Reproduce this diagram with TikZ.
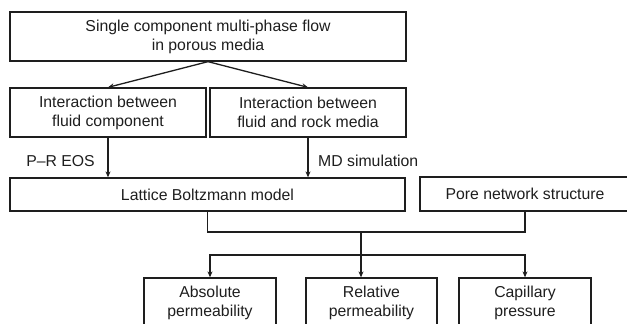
\documentclass[tikz,border=0pt]{standalone}
\usepackage{fontspec}
\setmainfont{Liberation Sans}
\usetikzlibrary{arrows.meta}
\definecolor{ink}{HTML}{1E1E1E}
\begin{document}
\begin{tikzpicture}[x=1pt,y=-1pt,
  box/.style={draw=ink,line width=1.3pt,inner sep=0pt,align=center,text=ink,
    font=\fontsize{15.8}{19}\selectfont},
  lbl/.style={inner sep=0pt,text=ink,font=\fontsize{15.8}{19}\selectfont},
  conn/.style={draw=ink,line width=1.3pt},
  arr/.style={conn,-{Stealth[length=6pt,width=5pt]}}]
\useasboundingbox (0,0) rectangle (627,324);
\clip (0,0) rectangle (627,324);
\node[box,minimum width=396pt,minimum height=49pt] (top) at (208,36.5)
  {Single component multi-phase flow\\in porous media};
\node[box,minimum width=196pt,minimum height=49pt] (midL) at (108,112.5)
  {Interaction between\\fluid component};
\node[box,minimum width=196pt,minimum height=49pt] (midR) at (308,112.5)
  {Interaction between\\fluid and rock media};
\node[box,minimum width=395pt,minimum height=33pt] (lat) at (207.5,194.5)
  {Lattice Boltzmann model};
\node[box,minimum width=210pt,minimum height=34pt] (pore) at (525,194)
  {Pore network structure};
\node[box,minimum width=132pt,minimum height=49pt] (abs) at (210,302.5)
  {Absolute\\permeability};
\node[box,minimum width=131pt,minimum height=49pt] (rel) at (371.5,302.5)
  {Relative\\permeability};
\node[box,minimum width=132pt,minimum height=49pt] (cap) at (525,302.5)
  {Capillary\\pressure};
\node[lbl] (pr) at (60.5,161) {P–R EOS};
\node[lbl,anchor=west] (md) at (318,161) {MD simulation};
\coordinate (j1) at (361,232);
\coordinate (j2) at (361,255);
\draw[arr] (top.south) -- (midL.north);
\draw[arr] (top.south) -- (midR.north);
\draw[arr] (midL.south) -- (midL.south |- lat.north);
\draw[arr] (midR.south) -- (midR.south |- lat.north);
\draw[conn] (lat.south) |- (j1) -| (pore.south);
\draw[arr] (j1) -- (j1 |- rel.north);
\draw[arr] (j2) -| (abs.north);
\draw[arr] (j2) -| (cap.north);
\end{tikzpicture}
\end{document}
